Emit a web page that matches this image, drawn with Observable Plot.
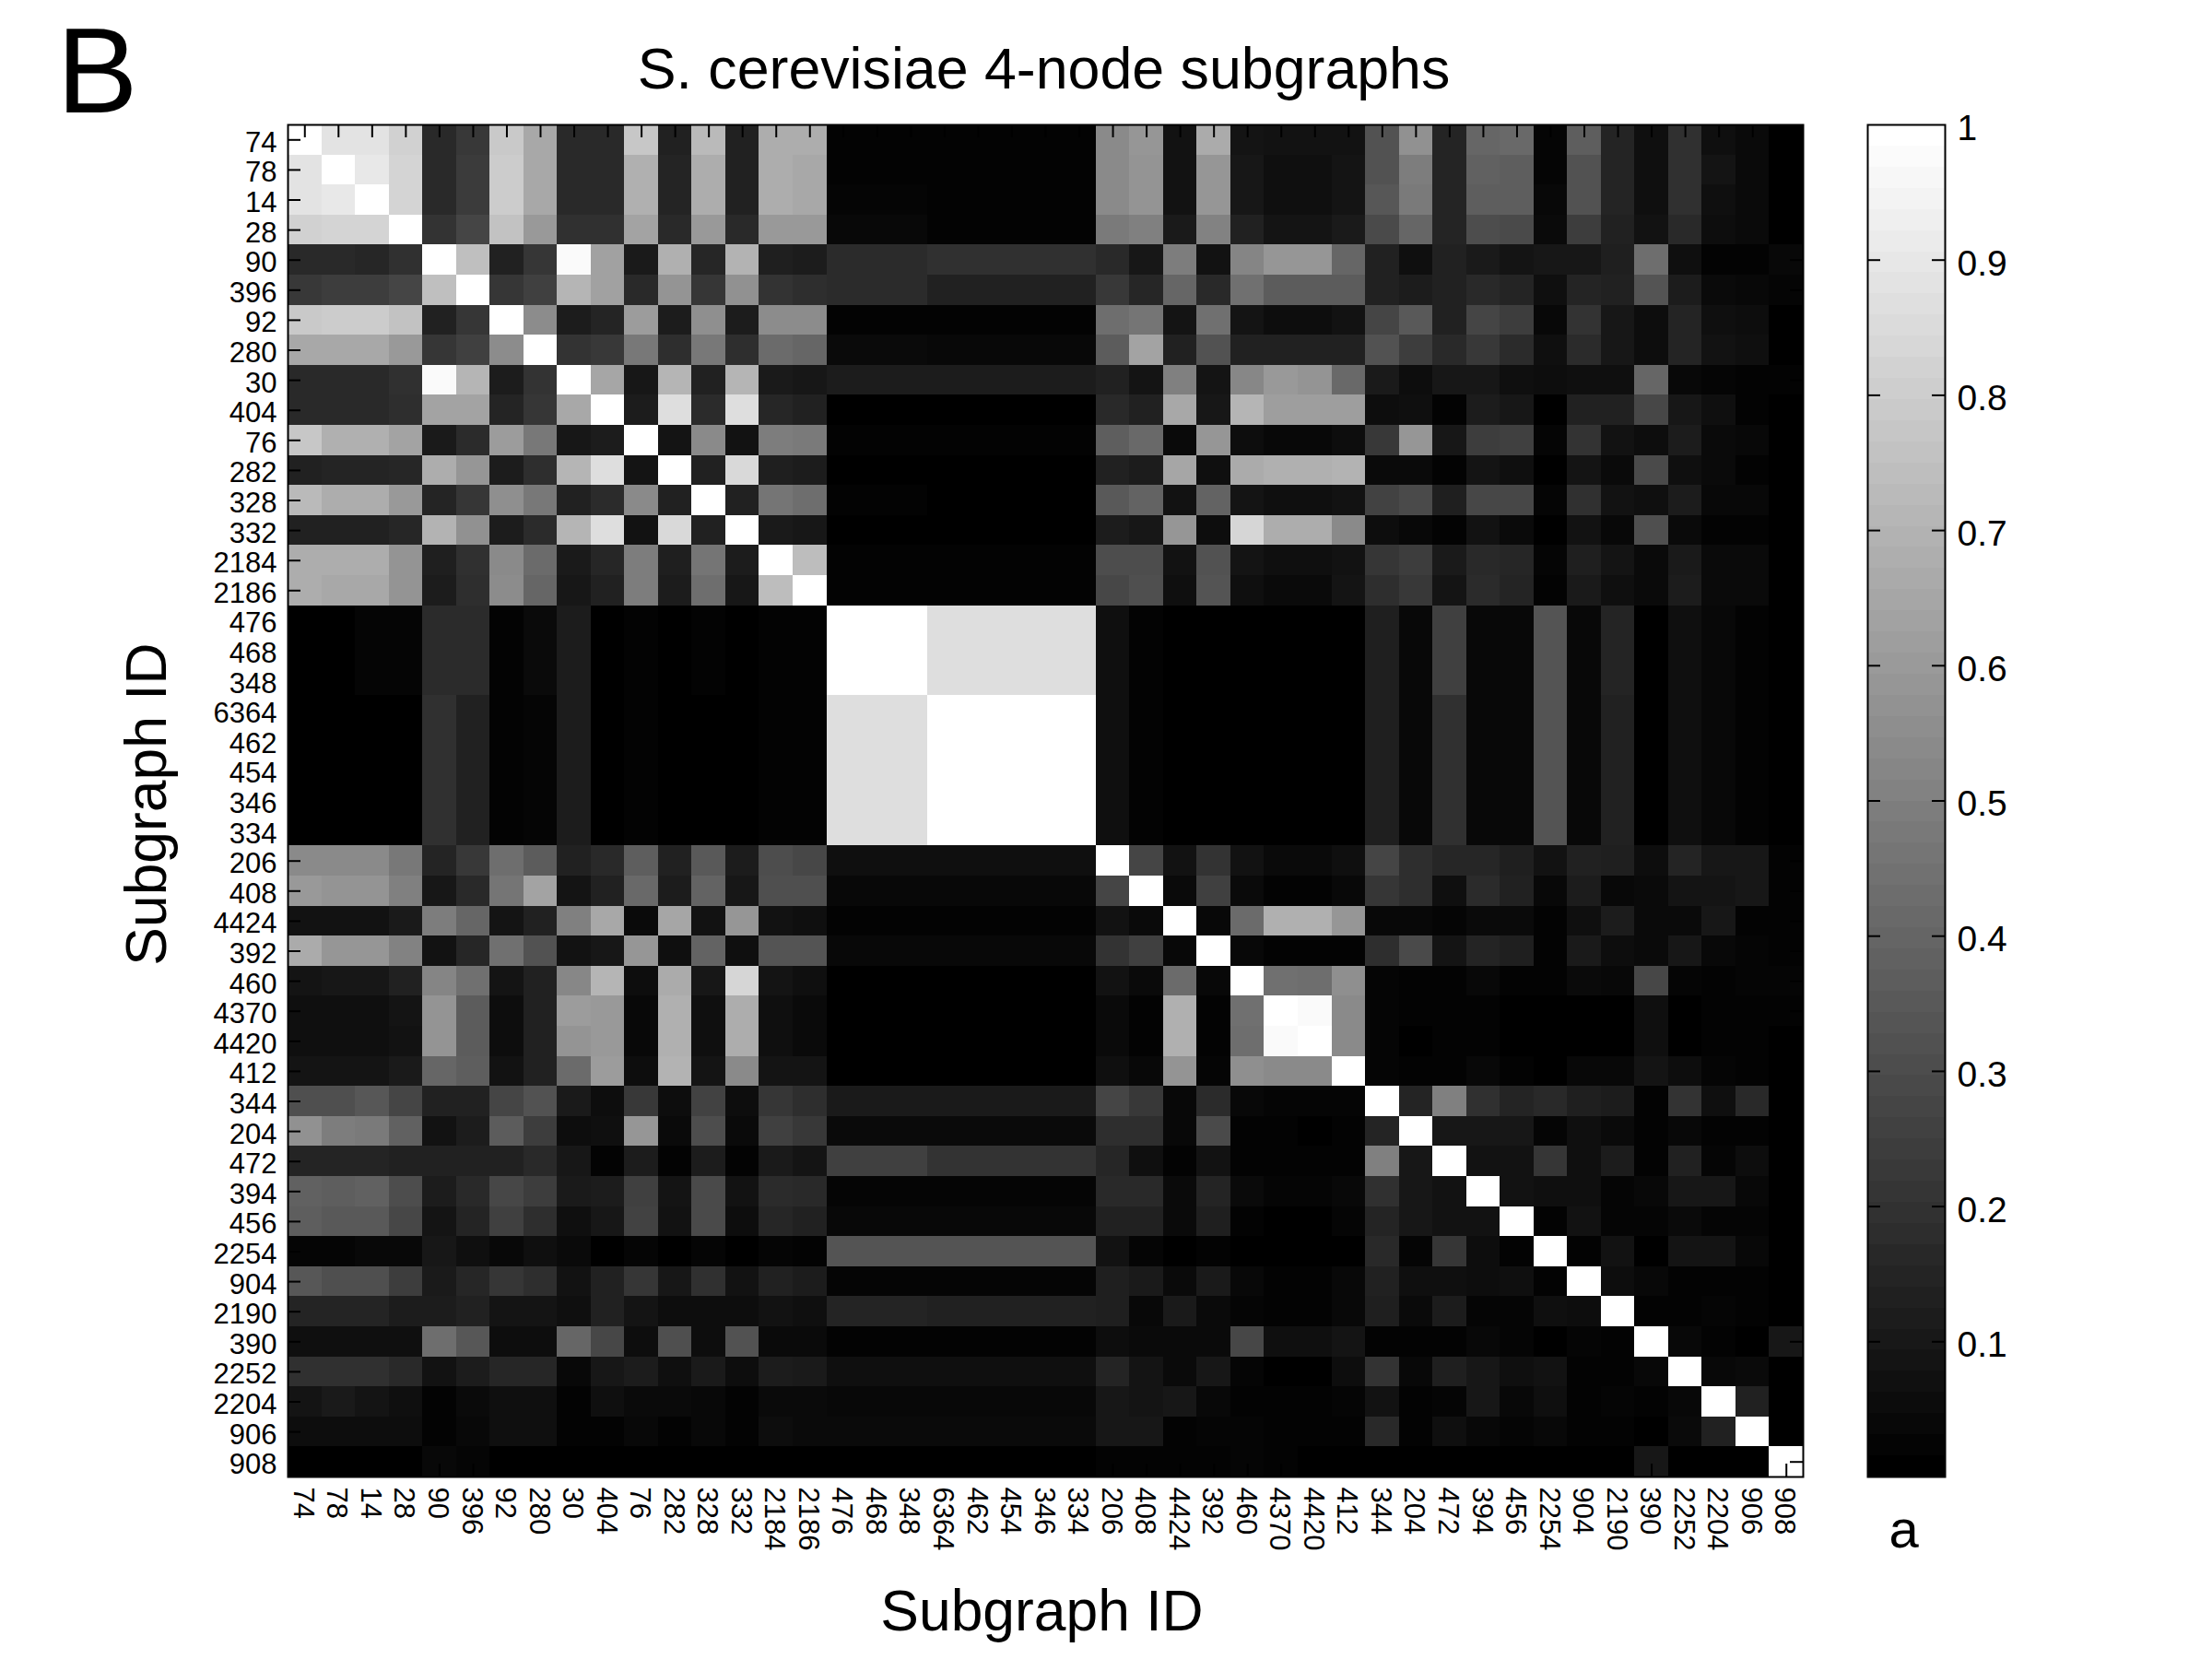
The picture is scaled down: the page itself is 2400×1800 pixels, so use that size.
<!DOCTYPE html>
<html>
<head>
<meta charset="utf-8">
<script src="https://cdn.jsdelivr.net/npm/d3@7"></script>
<script src="https://cdn.jsdelivr.net/npm/@observablehq/plot@0.6"></script>
<style>
html,body{margin:0;padding:0;background:#fff}
#root{position:relative;width:2400px;height:1800px;overflow:hidden;background:#fff}
#root svg{position:absolute;top:0;background:#fff}
</style>
</head>
<body>
<div id="root"></div>
<script>
const labels = ["74","78","14","28","90","396","92","280","30","404","76","282","328","332","2184","2186",
"476","468","348","6364","462","454","346","334",
"206","408","4424","392","460","4370","4420","412",
"344","204","472","394","456","2254","904","2190","390","2252","2204","906","908"];

// similarity a × 100, one row per subgraph
const matrix = [
[100,89,89,82,16,22,79,66,16,16,78,13,73,13,68,68,1,1,1,1,1,1,1,1,54,59,7,67,8,7,7,7,32,57,14,40,41,2,37,14,6,19,6,4,0],
[89,100,91,83,16,23,80,66,16,16,69,14,68,13,68,66,1,1,1,1,1,1,1,1,54,58,7,59,9,6,6,8,32,49,14,38,37,2,32,14,6,19,8,4,0],
[89,91,100,83,16,23,80,66,16,16,69,14,68,13,68,66,2,2,2,1,1,1,1,1,54,58,7,59,9,6,6,8,34,48,14,37,37,3,32,14,6,19,6,4,0],
[82,83,83,100,20,27,76,60,19,19,64,16,60,16,60,60,3,3,3,1,1,1,1,1,48,50,10,51,13,8,8,10,29,40,14,30,29,4,24,13,7,16,5,4,0],
[16,16,15,19,100,75,13,21,98,63,10,69,15,70,12,11,17,17,17,19,19,19,19,19,16,9,49,7,52,59,59,40,13,6,13,10,8,9,9,12,43,6,1,1,3],
[22,24,24,27,75,100,21,25,71,63,16,58,21,57,20,18,17,17,17,13,13,13,13,13,22,15,40,16,44,36,36,36,13,11,13,16,14,6,14,13,33,11,4,3,2],
[79,80,80,76,13,21,100,55,11,14,61,11,56,11,55,55,1,1,1,1,1,1,1,1,43,46,8,44,8,5,5,7,27,35,13,27,24,3,20,9,5,14,6,5,0],
[66,66,66,60,21,25,55,100,20,22,47,18,47,18,42,40,4,4,4,3,3,3,3,3,36,64,13,32,13,13,13,13,32,24,16,22,17,6,17,9,5,14,7,6,0],
[16,16,16,19,98,71,11,20,100,65,9,71,13,71,10,9,11,11,11,11,11,11,11,11,13,8,50,8,53,60,58,41,10,5,9,9,6,5,6,6,40,3,2,1,1],
[16,16,16,18,64,64,14,21,66,100,11,87,17,87,15,13,0,0,0,0,0,0,0,0,16,13,66,9,71,62,62,62,5,6,1,11,9,0,13,13,28,9,6,1,0],
[78,69,69,64,10,17,61,47,9,11,100,8,54,7,49,48,1,1,1,1,1,1,1,1,37,41,4,59,5,3,3,5,22,59,9,24,25,2,20,7,5,11,4,3,0],
[13,14,14,15,68,59,11,18,71,87,8,100,13,85,12,11,0,0,0,0,0,0,0,0,13,11,65,6,67,69,69,70,4,4,1,8,6,0,8,4,29,6,4,1,0],
[73,68,68,60,14,21,56,47,13,17,54,13,100,13,46,43,1,1,1,0,0,0,0,0,35,39,7,39,8,6,6,7,26,29,12,28,28,2,19,7,6,11,3,3,0],
[13,13,13,15,70,57,11,17,71,87,7,85,13,100,10,9,0,0,0,0,0,0,0,0,11,9,59,5,84,68,68,54,5,3,1,7,4,0,7,3,31,4,1,1,0],
[68,68,68,58,12,19,54,42,10,15,49,12,46,11,100,74,1,1,1,1,1,1,1,1,30,30,7,32,8,6,6,7,21,24,10,16,15,2,12,8,4,10,4,4,0],
[68,66,66,58,11,18,55,40,9,13,49,11,43,9,74,100,1,1,1,1,1,1,1,1,28,31,6,33,6,4,4,8,18,22,8,17,14,1,10,6,4,11,4,4,0],
[0,0,2,2,17,17,1,4,11,0,1,0,1,0,1,1,100,100,100,87,87,87,87,87,6,1,0,0,0,0,0,0,12,3,25,3,3,33,3,14,0,6,3,1,0],
[0,0,2,2,17,17,1,4,11,0,1,0,1,0,1,1,100,100,100,87,87,87,87,87,6,1,0,0,0,0,0,0,12,3,25,3,3,33,3,14,0,6,3,1,0],
[0,0,2,2,17,17,1,4,11,0,1,0,1,0,1,1,100,100,100,87,87,87,87,87,6,1,0,0,0,0,0,0,12,3,25,3,3,33,3,14,0,6,3,1,0],
[0,0,0,0,19,13,1,2,11,0,1,0,0,0,1,1,87,87,87,100,100,100,100,100,6,1,0,0,0,0,0,0,12,3,19,3,3,33,3,13,0,6,3,1,0],
[0,0,0,0,19,13,1,2,11,0,1,0,0,0,1,1,87,87,87,100,100,100,100,100,6,1,0,0,0,0,0,0,12,3,19,3,3,33,3,13,0,6,3,1,0],
[0,0,0,0,19,13,1,2,11,0,1,0,0,0,1,1,87,87,87,100,100,100,100,100,6,1,0,0,0,0,0,0,12,3,19,3,3,33,3,13,0,6,3,1,0],
[0,0,0,0,19,13,1,2,11,0,1,0,0,0,1,1,87,87,87,100,100,100,100,100,6,1,0,0,0,0,0,0,12,3,19,3,3,33,3,13,0,6,3,1,0],
[0,0,0,0,19,13,1,2,11,0,1,0,0,0,1,1,87,87,87,100,100,100,100,100,6,1,0,0,0,0,0,0,12,3,19,3,3,33,3,13,0,6,3,1,0],
[54,54,54,47,14,22,43,36,13,16,37,13,35,11,30,28,6,6,6,6,6,6,6,6,100,27,7,20,7,4,4,6,27,18,15,15,12,7,13,12,5,14,9,9,1],
[60,58,58,50,9,16,46,64,8,13,41,11,39,9,31,31,3,3,3,3,3,3,3,3,27,100,4,25,4,1,1,3,21,18,6,17,13,3,11,3,4,8,8,9,1],
[7,7,7,10,49,40,8,13,50,66,4,65,7,59,7,6,1,1,1,1,1,1,1,1,7,4,100,3,42,69,69,59,3,3,2,4,4,1,6,11,4,4,9,1,1],
[67,59,59,51,7,15,44,32,7,9,59,6,39,6,33,33,3,3,3,3,3,3,3,3,20,25,3,100,3,1,1,1,18,29,8,14,12,1,10,5,4,9,3,2,1],
[8,9,9,13,52,44,8,13,53,71,5,67,9,84,8,6,0,0,0,0,0,0,0,0,7,4,42,3,100,44,43,56,2,1,1,3,1,1,4,3,28,2,1,2,2],
[6,6,6,8,58,36,5,13,61,60,3,69,6,68,6,4,0,0,0,0,0,0,0,0,4,1,69,1,44,100,98,54,2,1,1,1,0,0,0,0,6,0,1,1,1],
[6,6,6,7,58,36,5,13,58,60,3,69,6,68,6,4,0,0,0,0,0,0,0,0,4,1,69,1,43,98,100,54,2,0,1,1,0,0,0,0,6,0,1,1,0],
[8,8,8,10,40,37,7,13,42,61,5,70,8,54,8,8,0,0,0,0,0,0,0,0,6,3,58,2,56,54,54,100,2,1,1,3,1,0,3,3,8,5,2,1,0],
[31,31,34,27,13,13,27,32,10,5,22,5,26,5,21,18,10,10,10,10,10,10,10,10,27,22,3,17,3,2,2,2,100,14,50,19,14,16,12,11,1,20,6,16,0],
[57,49,48,38,7,11,36,24,5,6,59,4,30,4,25,22,4,4,4,4,4,4,4,4,18,18,3,29,1,1,0,1,14,100,9,9,9,2,6,4,1,3,1,1,0],
[14,14,14,13,13,13,13,16,9,1,11,1,11,1,10,8,25,25,25,20,20,20,20,20,15,6,1,7,1,1,1,1,50,9,100,7,7,21,6,11,1,13,2,5,0],
[38,37,38,30,11,16,28,24,10,11,25,8,29,7,17,16,2,2,2,2,2,2,2,2,16,16,4,14,4,2,2,3,19,9,7,100,7,6,6,2,3,9,9,3,0],
[37,35,35,28,8,14,25,18,6,9,26,7,29,5,15,13,3,3,3,3,3,3,3,3,13,13,4,12,1,0,0,2,14,9,7,7,100,1,7,2,2,4,2,2,0],
[2,2,3,3,9,6,3,6,4,0,2,0,2,0,2,1,33,33,33,33,33,33,33,33,7,2,0,1,0,0,0,0,16,2,21,5,1,100,1,7,0,8,8,3,0],
[34,31,31,24,10,15,21,18,7,13,21,9,19,7,13,11,2,2,2,2,2,2,2,2,12,10,4,10,3,1,1,3,13,6,6,5,6,1,100,5,3,1,1,1,0],
[14,14,14,11,11,13,8,8,6,13,8,5,5,5,7,6,14,14,14,13,13,13,13,13,12,3,10,4,2,1,1,3,12,4,11,2,2,6,5,100,1,1,2,1,0],
[6,6,6,6,43,34,5,5,40,28,5,31,5,32,4,4,1,1,1,1,1,1,1,1,5,4,4,4,28,6,6,8,1,1,1,3,2,0,2,1,100,3,1,0,9],
[19,19,19,16,7,11,15,15,3,9,11,6,10,5,11,10,6,6,6,6,6,6,6,6,14,8,4,9,2,0,0,5,20,3,12,9,6,7,1,1,3,100,3,4,0],
[8,10,8,6,1,4,6,6,1,6,4,4,3,1,4,4,3,3,3,3,3,3,3,3,9,8,9,3,1,1,1,2,7,1,2,9,3,6,1,2,1,3,100,13,0],
[5,5,5,5,1,3,6,6,1,1,3,1,3,1,5,4,4,4,4,4,4,4,4,4,9,9,1,2,2,1,1,1,16,1,6,3,2,3,1,1,0,4,13,100,0],
[0,0,0,0,3,2,0,0,0,0,0,0,0,0,0,0,0,0,0,0,0,0,0,0,1,1,1,1,2,1,0,0,0,0,0,0,0,0,0,0,9,0,0,0,100]
];

const cbarTicks = [0.1,0.2,0.3,0.4,0.5,0.6,0.7,0.8,0.9,1];
const cbarLevels = d3.range(64);

const FONT = "Liberation Sans, Arial, Helvetica, sans-serif";
const cells = matrix.flatMap((row,i)=>row.map((v,j)=>({x:labels[j],y:labels[i],v:v/100})));
const grayScale = {type:"linear",domain:[0,1],range:["#000000","#ffffff"]};

const TICK = 14;
const W = 1644, H = 1467;

const main = Plot.plot({
  width:1990, height:1800,
  marginLeft:312, marginRight:34, marginTop:135, marginBottom:198,
  style:{fontFamily:FONT,background:"#fff",color:"#000"},
  x:{domain:labels,padding:0,round:false,axis:null},
  y:{domain:labels,padding:0,round:false,axis:null},
  color:grayScale,
  marks:[
    Plot.cell(cells,{x:"x",y:"y",fill:"v",shapeRendering:"crispEdges"}),
    Plot.ruleX(labels,{x:d=>d,insetBottom:H-TICK,stroke:"#000",strokeWidth:2}),
    Plot.ruleX(labels,{x:d=>d,insetTop:H-TICK,stroke:"#000",strokeWidth:2}),
    Plot.ruleY(labels,{y:d=>d,insetRight:W-TICK,stroke:"#000",strokeWidth:2}),
    Plot.ruleY(labels,{y:d=>d,insetLeft:W-TICK,stroke:"#000",strokeWidth:2}),
    Plot.frame({stroke:"#000",strokeWidth:2}),
    Plot.axisY({anchor:"left",tickSize:0,tickPadding:12,fontSize:31,label:null,dy:3,color:"#000"}),
    Plot.axisX({anchor:"bottom",tickSize:0,tickPadding:11,tickRotate:90,fontSize:31,label:null,dx:-2,color:"#000"}),
    Plot.text(["S. cerevisiae 4-node subgraphs"],{frameAnchor:"top-left",dx:820,dy:-60,text:d=>d,fontSize:62.7,textAnchor:"middle",lineAnchor:"middle",fill:"#000"}),
    Plot.text(["Subgraph ID"],{frameAnchor:"top-left",dx:818,dy:1614,text:d=>d,fontSize:62.4,textAnchor:"middle",lineAnchor:"middle",fill:"#000"}),
    Plot.text(["Subgraph ID"],{frameAnchor:"top-left",dx:-152,dy:737,text:d=>d,fontSize:62.4,textAnchor:"middle",lineAnchor:"middle",rotate:-90,fill:"#000"}),
    Plot.text(["B"],{frameAnchor:"top-left",dx:-207,dy:-56,text:d=>d,fontSize:132,textAnchor:"middle",lineAnchor:"middle",fill:"#000"})
  ]
});
main.style.left = "0px";

const cbarW = 84;
const cbar = Plot.plot({
  width:375, height:1800,
  marginLeft:26, marginRight:265, marginTop:135, marginBottom:198,
  style:{fontFamily:FONT,background:"#fff",color:"#000"},
  x:{domain:[0,1],axis:null},
  y:{domain:[0,1],axis:null},
  color:grayScale,
  marks:[
    Plot.rect(cbarLevels,{x1:0,x2:1,y1:d=>d/64,y2:d=>(d+1)/64,fill:d=>d/63,shapeRendering:"crispEdges"}),
    Plot.ruleY(cbarTicks.slice(0,9),{y:d=>d,insetRight:cbarW-TICK,stroke:"#000",strokeWidth:2}),
    Plot.ruleY(cbarTicks.slice(0,9),{y:d=>d,insetLeft:cbarW-TICK,stroke:"#000",strokeWidth:2}),
    Plot.frame({stroke:"#000",strokeWidth:2}),
    Plot.axisY(cbarTicks,{anchor:"right",tickSize:0,tickPadding:13,fontSize:39,label:null,dy:4,color:"#000",tickFormat:d=>String(d)}),
    Plot.text(["a"],{frameAnchor:"top-left",dx:39,dy:1525,text:d=>d,fontSize:58,textAnchor:"middle",lineAnchor:"middle",fill:"#000"})
  ]
});
cbar.style.left = "2000px";

const root = document.getElementById("root");
root.appendChild(main);
root.appendChild(cbar);
</script>
</body>
</html>
